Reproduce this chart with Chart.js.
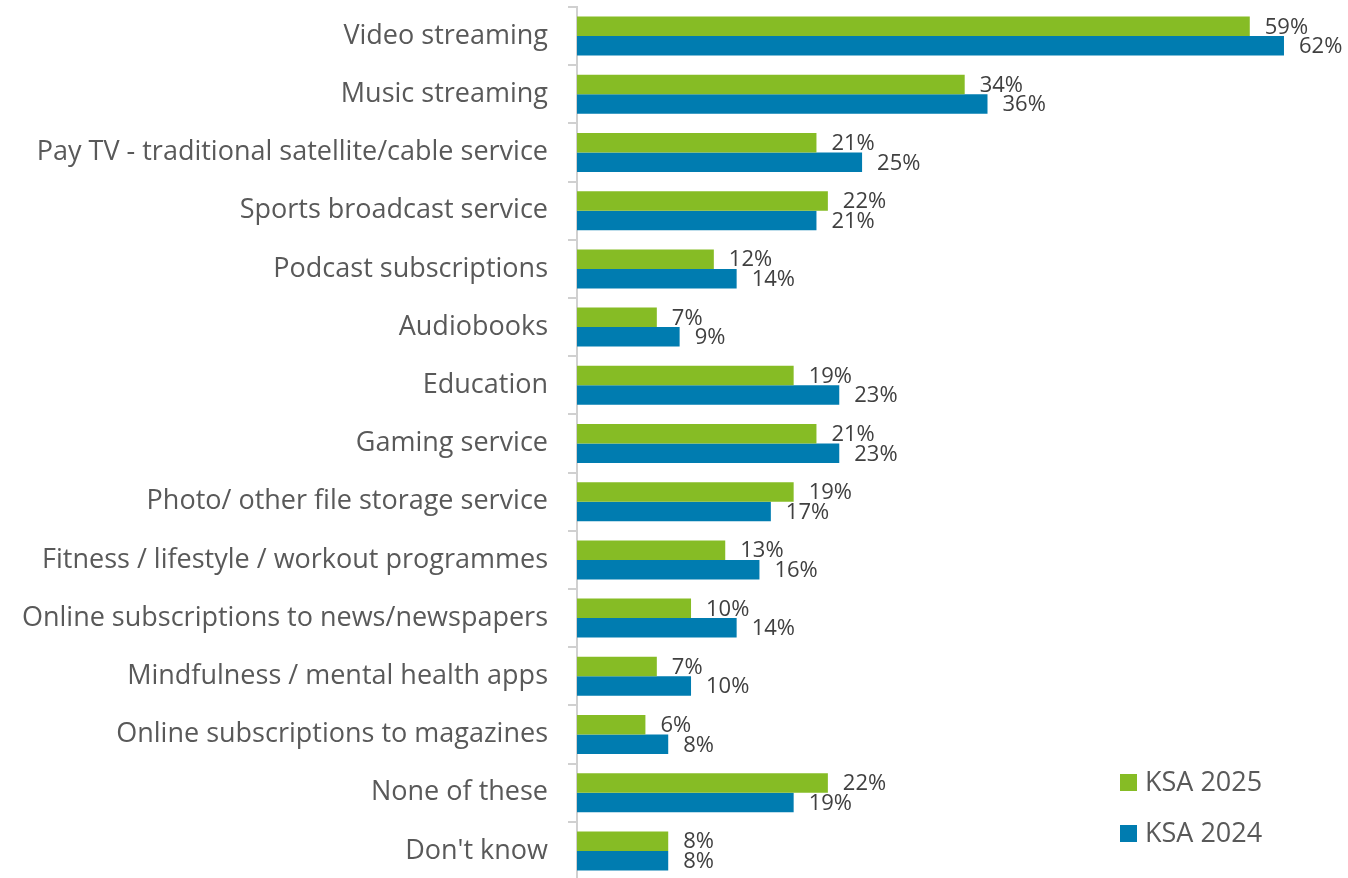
<!DOCTYPE html>
<html>
<head>
<meta charset="utf-8">
<script src="https://cdn.jsdelivr.net/npm/chart.js@4.4.1/dist/chart.umd.min.js"></script>
<style>
  html, body { margin: 0; padding: 0; background: #ffffff; overflow: hidden; }
  #wrap { position: relative; width: 1348px; height: 878px; overflow: hidden; }
  #chart { position: absolute; left: 0; top: 0; }
  .legend { position: absolute; left: 1120px; top: 0; font-family: "Open Sans", sans-serif; font-size: 27px; color: #595959; }
  .legend div { position: absolute; left: 0; white-space: nowrap; height: 30px; line-height: 30px; }
  .legend span.sw { display: inline-block; width: 17px; height: 17px; vertical-align: 0px; margin-right: 8px; }
</style>
</head>
<body>
<div id="wrap">
  <canvas id="chart" width="1348" height="882"></canvas>
  <div class="legend" id="legend"></div>
</div>
<script>
const categories = [
  "Video streaming",
  "Music streaming",
  "Pay TV - traditional satellite/cable service",
  "Sports broadcast service",
  "Podcast subscriptions",
  "Audiobooks",
  "Education",
  "Gaming service",
  "Photo/ other file storage service",
  "Fitness / lifestyle / workout programmes",
  "Online subscriptions to news/newspapers",
  "Mindfulness / mental health apps",
  "Online subscriptions to magazines",
  "None of these",
  "Don't know"
];
const ksa2025 = [59, 34, 21, 22, 12, 7, 19, 21, 19, 13, 10, 7, 6, 22, 8];
const ksa2024 = [62, 36, 25, 21, 14, 9, 23, 23, 17, 16, 14, 10, 8, 19, 8];
const seriesNames = ["KSA 2025", "KSA 2024"];
const seriesColors = ["#86bc25", "#007cb0"];

const FONT = '"Open Sans", sans-serif';
const TEXT = '#595959';

// Percentage labels to the right of every bar
const valueLabels = {
  id: 'valueLabels',
  afterDatasetsDraw(chart) {
    const ctx = chart.ctx;
    ctx.save();
    ctx.font = '22px ' + FONT;
    ctx.fillStyle = '#404040';
    ctx.textAlign = 'left';
    ctx.textBaseline = 'middle';
    chart.data.datasets.forEach((ds, di) => {
      chart.getDatasetMeta(di).data.forEach((bar, i) => {
        ctx.fillText(ds.data[i] + '%', bar.x + 15, bar.y + 1);
      });
    });
    ctx.restore();
  }
};

new Chart(document.getElementById('chart'), {
  type: 'bar',
  data: {
    labels: categories,
    datasets: [
      { label: seriesNames[0], data: ksa2025, backgroundColor: seriesColors[0] },
      { label: seriesNames[1], data: ksa2024, backgroundColor: seriesColors[1] }
    ]
  },
  options: {
    indexAxis: 'y',
    responsive: false,
    animation: false,
    categoryPercentage: 0.67,
    barPercentage: 1.0,
    layout: { padding: { top: 7, right: 7, bottom: 2, left: 0 } },
    plugins: {
      legend: { display: false },
      tooltip: { enabled: false }
    },
    scales: {
      x: {
        display: false,
        min: 0,
        max: 67
      },
      y: {
        afterFit(scale) {
          scale.width = 577;
          scale.paddingTop = 0;
          scale.paddingBottom = 0;
        },
        grid: {
          drawOnChartArea: false,
          drawTicks: true,
          tickLength: 9,
          color: '#d0d0d0',
          lineWidth: 2
        },
        border: { color: '#d0d0d0', width: 2 },
        ticks: {
          padding: 20,
          color: TEXT,
          font: { family: FONT, size: 27 }
        }
      }
    }
  },
  plugins: [valueLabels]
});

// Legend entries, stacked in the lower right
const legend = document.getElementById('legend');
seriesNames.forEach((name, i) => {
  const row = document.createElement('div');
  row.style.top = (766 + i * 51) + 'px';
  row.innerHTML = '<span class="sw" style="background:' + seriesColors[i] + '"></span>' + name;
  legend.appendChild(row);
});
</script>
</body>
</html>
